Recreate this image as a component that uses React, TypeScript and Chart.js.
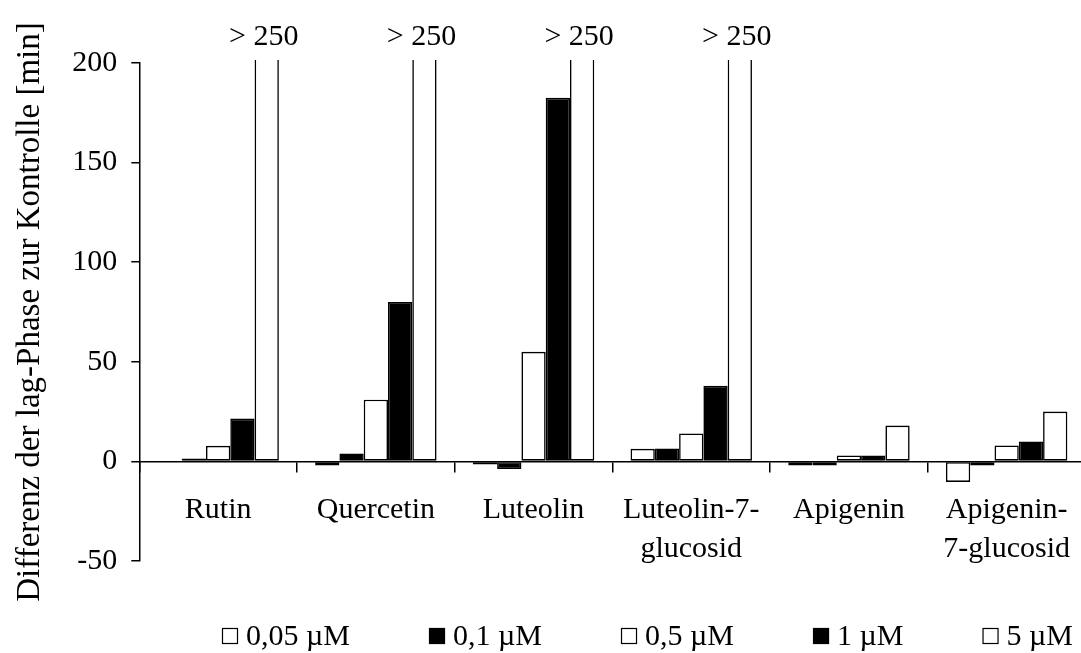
import { useEffect, useRef } from 'react';
import { Chart, registerables } from 'chart.js';

Chart.register(...registerables);

// Compounds on the category axis (multi-line names as arrays)
const categories: (string | string[])[] = [
  'Rutin',
  'Quercetin',
  'Luteolin',
  ['Luteolin-7-', 'glucosid'],
  'Apigenin',
  ['Apigenin-', '7-glucosid'],
];

// Concentrations shown in the legend
const concentrationLabels = ['0,05 µM', '0,1 µM', '0,5 µM', '1 µM', '5 µM'];

// Difference of the lag phase to the control [min], one array per concentration
const lag005 = [0, -2, -1.5, 6.3, -2, -10.3];
const lag01 = [1.5, 4, -3.8, 6.5, -2, -2];
const lag05 = [7.8, 31, 55, 14, 3, 8];
const lag1 = [21.5, 80, 182.5, 38, 3, 10];
const lag5 = [260, 260, 260, 260, 18, 25];

// Labels for values beyond the axis range
const offScaleLabels = ['> 250', '> 250', '> 250', '> 250', '', ''];

const fills = ['#ffffff', '#000000', '#ffffff', '#000000', '#ffffff'];

const Y_MIN = -50;
const Y_MAX = 200;
const Y_STEP = 50;

const FONT_FAMILY = '"Liberation Serif", "Times New Roman", serif';
const FONT_SIZE = 30;

// legend row placement
const LEGEND_LEFT = 222;
const LEGEND_RIGHT = 1073;
const LEGEND_Y = 636;

const offScalePlugin = {
  id: 'offScaleLabels',
  afterDatasetsDraw(chart: any) {
    const meta = chart.getDatasetMeta(4);
    const { ctx, chartArea } = chart;
    ctx.save();
    ctx.font = `${FONT_SIZE}px ${FONT_FAMILY}`;
    ctx.fillStyle = '#000';
    ctx.textAlign = 'center';
    ctx.textBaseline = 'alphabetic';
    meta.data.forEach((bar: any, i: number) => {
      const text = offScaleLabels[i];
      if (text) ctx.fillText(text, bar.x - 3, chartArea.top - 18);
    });
    ctx.restore();
  },
};

const legendRowPlugin = {
  id: 'legendRow',
  afterDraw(chart: any) {
    const { ctx } = chart;
    const box = 16;
    const gap = 8;
    ctx.save();
    ctx.font = `${FONT_SIZE}px ${FONT_FAMILY}`;
    const datasets = chart.data.datasets;
    const widths = datasets.map((ds: any) => box + gap + ctx.measureText(ds.label).width);
    const total = widths.reduce((a: number, b: number) => a + b, 0);
    const spacing = (LEGEND_RIGHT - LEGEND_LEFT - total) / (widths.length - 1);
    let x = LEGEND_LEFT;
    datasets.forEach((ds: any, i: number) => {
      ctx.fillStyle = ds.backgroundColor;
      ctx.fillRect(x, LEGEND_Y - box / 2, box, box);
      ctx.strokeStyle = '#000';
      ctx.lineWidth = 1.2;
      ctx.strokeRect(x + 0.5, LEGEND_Y - box / 2 + 0.5, box - 1, box - 1);
      ctx.fillStyle = '#000';
      ctx.textAlign = 'left';
      ctx.textBaseline = 'middle';
      ctx.fillText(ds.label, x + box + gap, LEGEND_Y + 1);
      x += widths[i] + spacing;
    });
    ctx.restore();
  },
};

export default function App() {
  const canvasRef = useRef<HTMLCanvasElement | null>(null);

  useEffect(() => {
    if (!canvasRef.current) return;
    const series = [lag005, lag01, lag05, lag1, lag5];
    const chart = new Chart(canvasRef.current, {
      type: 'bar',
      data: {
        labels: categories,
        datasets: series.map((values, i) => ({
          label: concentrationLabels[i],
          data: values,
          backgroundColor: fills[i],
          borderColor: '#000000',
          borderWidth: 1.6,
          borderSkipped: false,
          categoryPercentage: 0.77,
          barPercentage: 1.0,
          clip: { left: 0, top: 3, right: 0, bottom: 0 },
        })),
      },
      options: {
        responsive: false,
        animation: false,
        layout: { padding: { top: 63, right: 14.5, bottom: 92, left: 0 } },
        plugins: {
          legend: { display: false },
          tooltip: { enabled: false },
        },
        scales: {
          x: {
            type: 'category',
            position: { y: 0 },
            offset: true,
            grid: {
              offset: true,
              drawOnChartArea: false,
              drawTicks: true,
              tickLength: 10,
              color: '#000',
              lineWidth: 1.5,
            },
            border: { color: '#000', width: 1.5 },
            ticks: {
              color: '#000',
              padding: 20,
              maxRotation: 0,
              autoSkip: false,
              font: { family: FONT_FAMILY, size: FONT_SIZE, lineHeight: 1.28 },
            },
          },
          y: {
            min: Y_MIN,
            max: Y_MAX,
            afterFit(scale: any) {
              scale.width = 139.3;
            },
            grid: {
              drawOnChartArea: false,
              drawTicks: true,
              tickLength: 8,
              color: '#000',
              lineWidth: 1.5,
            },
            border: { color: '#000', width: 1.5 },
            ticks: {
              stepSize: Y_STEP,
              color: '#000',
              padding: 14,
              font: { family: FONT_FAMILY, size: FONT_SIZE },
            },
            title: {
              display: true,
              text: 'Differenz der lag-Phase zur Kontrolle [min]',
              color: '#000',
              padding: { top: 11, bottom: 0 },
              font: { family: FONT_FAMILY, size: 33 },
            },
          },
        },
      },
      plugins: [offScalePlugin, legendRowPlugin],
    });
    return () => chart.destroy();
  }, []);

  return (
    <div
      style={{
        position: 'fixed',
        left: 0,
        top: 0,
        width: 1081,
        height: 653,
        overflow: 'hidden',
        background: '#ffffff',
      }}
    >
      <canvas ref={canvasRef} width={1100} height={653} style={{ display: 'block' }} />
    </div>
  );
}
